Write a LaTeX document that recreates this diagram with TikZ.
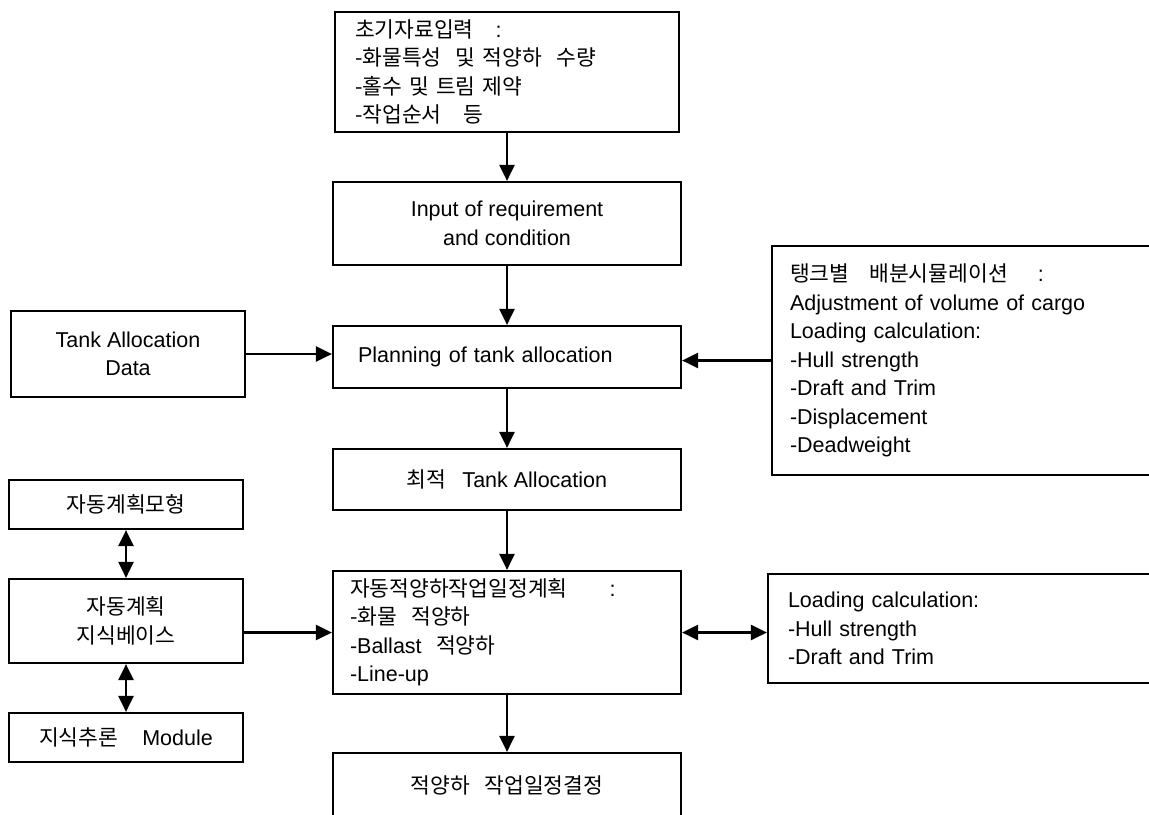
\documentclass[tikz,border=0pt]{standalone}
\usepackage{fontspec}
\setmainfont{Liberation Sans}
\newfontfamily\kr{Noto Sans CJK KR}
\usetikzlibrary{arrows.meta,positioning}

\begin{document}
\begin{tikzpicture}[x=0.5pt,y=-0.5pt,
	box/.style={draw,rectangle,line width=1.1pt,inner sep=0pt,font=\fontsize{10.75}{14.25}\selectfont},
	link/.style={line width=1.2pt,-{Triangle[length=8pt,width=7.5pt]}},
	duplex/.style={line width=1.2pt,{Triangle[length=8pt,width=7.5pt]}-{Triangle[length=8pt,width=7.5pt]}}]
		\useasboundingbox (0,0) rectangle (1149,814);
		\clip (0,0) rectangle (1149,814);
		% middle column
		\node[box,align=left,text width=152pt,inner xsep=10pt,minimum height=60pt] (init) at (507,72) {{\kr 초기자료입력}\hspace{11pt}:\\{\kr -화물특성\ \ 및 적양하\ \ 수량}\\{\kr -홀수 및 트림 제약}\\{\kr -작업순서\ \ \ 등}};
		\node[box,align=center,minimum width=174pt,minimum height=41.5pt] (input) at (507,223.5) {Input of requirement\\and condition};
		\node[box,align=left,text width=149pt,inner xsep=12.5pt,minimum height=31pt] (plan) at (507,357) {Planning of tank allocation};
		\node[box,minimum width=174pt,minimum height=30.5pt] (opt) at (507,479.5) {{\kr 최적}\hspace{8pt}Tank Allocation};
		\node[box,align=left,text width=157pt,inner xsep=8.5pt,minimum height=61.5pt] (sched) at (507,632.5) {{\kr 자동적양하작업일정계획}\hspace{21pt}:\\{\kr -화물\ \ 적양하}\\-Ballast\ \ {\kr 적양하}\\-Line-up};
		\node[box,minimum width=174pt,minimum height=32.5pt] (fin) at (507,785.5) {{\kr 적양하\ \ \ 작업일정결정}};
		% left column
		\node[box,align=center,minimum width=117pt,minimum height=43pt] (tad) at (128,354) {Tank Allocation\\Data};
		\node[box,minimum width=117pt,minimum height=24.5pt] (model) at (126,504.5) {{\kr 자동계획모형}};
		\node[box,align=center,minimum width=117pt,minimum height=42pt] (kb) at (126,621) {{\kr 자동계획}\\{\kr 지식베이스}};
		\node[box,minimum width=117pt,minimum height=24.5pt] (infer) at (126,737.5) {{\kr 지식추론}\hspace{12pt}Module};
		% right column
		\node[box,align=left,text width=186pt,inner xsep=9pt,minimum height=114.5pt] (sim) at (976,360.5) {{\kr 탱크별}\hspace{10pt}{\kr 배분시뮬레이션}\hspace{15pt}:\\Adjustment of volume of cargo\\Loading calculation:\\-Hull strength\\-Draft and Trim\\-Displacement\\-Deadweight};
		\node[box,align=left,text width=186pt,inner xsep=10pt,minimum height=54.5pt] (calc) at (974,628.5) {Loading calculation:\\-Hull strength\\-Draft and Trim};
		% connectors
		\draw[link] (init) -- (input);
		\draw[link] (input) -- (plan);
		\draw[link] (plan) -- (opt);
		\draw[link] (opt) -- (sched);
		\draw[link] (sched) -- (fin);
		\draw[link] (tad.east) -- (tad.east -| plan.west);
		\draw[link] (sim.west) -- (sim.west -| plan.east);
		\draw[link] (kb.east |- sched.west) -- (sched.west);
		\draw[duplex] (sched.east) -- (sched.east -| calc.west);
		\draw[duplex] (model) -- (kb);
		\draw[duplex] (kb) -- (infer);
	\end{tikzpicture}
\end{document}
